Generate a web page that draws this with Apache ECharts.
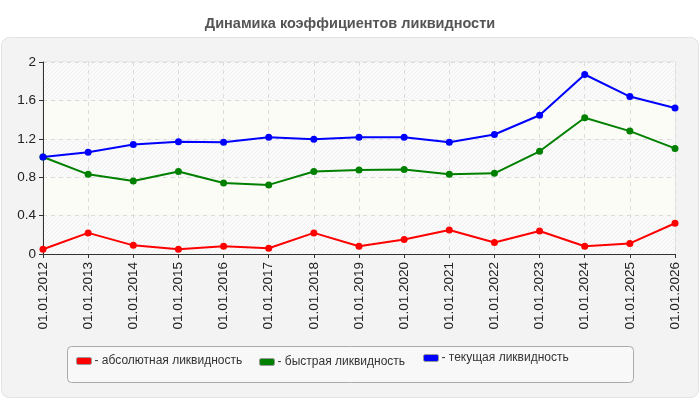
<!DOCTYPE html>
<html><head><meta charset="utf-8">
<script src="https://cdn.jsdelivr.net/npm/echarts@6/dist/echarts.min.js"></script>
<style>html,body{margin:0;padding:0;background:#fff}#c{width:700px;height:400px}</style>
</head><body><div id="c"></div>
<script>
const categories = ['01.01.2012','01.01.2013','01.01.2014','01.01.2015','01.01.2016','01.01.2017','01.01.2018','01.01.2019','01.01.2020','01.01.2021','01.01.2022','01.01.2023','01.01.2024','01.01.2025','01.01.2026'];
const absoluteLiquidity = [0.05,0.22,0.09,0.05,0.08,0.06,0.22,0.08,0.15,0.25,0.12,0.24,0.08,0.11,0.32];
const quickLiquidity = [1.01,0.83,0.76,0.86,0.74,0.72,0.86,0.875,0.88,0.83,0.84,1.07,1.42,1.28,1.10];
const currentLiquidity = [1.01,1.06,1.14,1.17,1.165,1.215,1.195,1.215,1.215,1.165,1.245,1.445,1.87,1.64,1.52];
const seriesNames = ['абсолютная ликвидность','быстрая ликвидность','текущая ликвидность'];
const seriesColors = ['#ff0000','#008000','#0000ff'];
const yTicks = {min:0, max:2, interval:0.4};

const pc = document.createElement('canvas');
pc.width = 4; pc.height = 4;
const g = pc.getContext('2d');
g.fillStyle = '#fbfbfb'; g.fillRect(0,0,4,4);
g.strokeStyle = '#efefef'; g.lineWidth = 1;
g.beginPath(); g.moveTo(-1,5); g.lineTo(5,-1); g.moveTo(-3,3); g.lineTo(3,-3); g.moveTo(1,7); g.lineTo(7,1); g.stroke();
const hatch = {image: pc, repeat: 'repeat'};

const FONT = 'Liberation Sans, Arial, sans-serif';
const chart = echarts.init(document.getElementById('c'), null, {renderer:'canvas'});
const values = [absoluteLiquidity, quickLiquidity, currentLiquidity];
const legendPos = [76, 259, 423];
const legendTop = [355, 356, 352];
chart.setOption({
  backgroundColor: '#fff',
  animation: false,
  title: {text: 'Динамика коэффициентов ликвидности', left: 'center', top: 11,
    textStyle: {fontSize: 14.5, fontWeight: 'bold', color: '#555', fontFamily: FONT}},
  graphic: [
    {type:'rect', z:-10, shape:{x:1.5,y:37.5,width:697,height:360,r:8}, style:{fill:'#f3f3f3', stroke:'#e3e3e3', lineWidth:1}},
    {type:'rect', z:-9, shape:{x:67.5,y:346.5,width:566,height:36,r:4}, style:{fill:'#f8f8f8', stroke:'#aaaaaa', lineWidth:1}}
  ],
  legend: seriesNames.map((n,i)=>({
    data:[n], left: legendPos[i], top: legendTop[i], orient:'horizontal',
    itemWidth: 15, itemHeight: 7, itemGap: 0, padding: 0,
    icon: 'roundRect',
    itemStyle: {borderColor:'#999', borderWidth:1},
    formatter: '- {name}',
    textStyle: {fontSize: 12, color: '#333', padding:[0,0,0,-2], fontFamily: FONT}
  })),
  grid: {left: 43, right: 25, top: 62, bottom: 146, containLabel: false, show: true, borderColor: '#dddddd', borderWidth: 1, backgroundColor: 'transparent'},
  xAxis: {
    type: 'category', data: categories, boundaryGap: false,
    axisLine: {lineStyle: {color: '#333'}},
    axisTick: {show: true, length: 4, lineStyle:{color:'#333'}},
    axisLabel: {rotate: 90, fontSize: 13.5, color: '#222', margin: 8, fontFamily: FONT},
    splitLine: {show: true, lineStyle: {color: '#dcdcdc', type: [4,4]}}
  },
  yAxis: {
    type: 'value', min: yTicks.min, max: yTicks.max, interval: yTicks.interval,
    axisLine: {show: true, lineStyle: {color: '#333'}},
    axisTick: {show: true, length: 4, lineStyle:{color:'#333'}},
    axisLabel: {fontSize: 13.5, color: '#222', margin: 7, fontFamily: FONT},
    splitLine: {show: true, lineStyle: {color: '#dcdcdc', type: [4,4]}},
    splitArea: {show: true, areaStyle: {color: [hatch, '#fcfcf6']}}
  },
  series: seriesNames.map((n,i)=>({
    name: n, type: 'line', data: values[i],
    symbol: 'circle', symbolSize: 7,
    lineStyle: {width: 2, color: seriesColors[i]},
    itemStyle: {color: seriesColors[i]},
    z: 2 + i
  }))
});
</script></body></html>
